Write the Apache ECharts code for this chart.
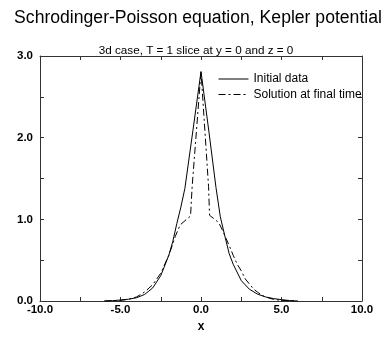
<!DOCTYPE html>
<html><head><meta charset="utf-8">
<script src="https://cdn.jsdelivr.net/npm/echarts@6/dist/echarts.min.js"></script>
<style>html,body{margin:0;padding:0;background:#fff}#c{width:389px;height:338px}</style>
</head><body><div id="c"></div>
<script>
const titleText = "Schrodinger-Poisson equation, Kepler potential";
const subtitleText = "3d case, T = 1 slice at y = 0 and z = 0";
const seriesNames = ["Initial data", "Solution at final time"];
const xAxisName = "x";
const xTicks = [-10, -5, 0, 5, 10];
const yTicks = [0, 1, 2, 3];

const initialX = [-6.0, -5.5, -5.0, -4.5, -4.0, -3.5, -3.0, -2.5, -2.0, -1.75, -1.5, -1.25, -1.0, -0.5, 0.0, 0.5, 0.93, 1.2, 1.5, 1.75, 2.0, 2.5, 3.0, 3.5, 4.0, 4.5, 5.0, 5.5, 6.0];
const initialY = [0.0, 0.004, 0.012, 0.022, 0.04, 0.08, 0.16, 0.31, 0.56, 0.73, 0.95, 1.15, 1.38, 2.09, 2.81, 2.06, 1.39, 1.03, 0.78, 0.58, 0.45, 0.25, 0.145, 0.085, 0.05, 0.03, 0.016, 0.006, 0.0];

const solutionX = [-6.0, -5.0, -4.5, -4.0, -3.5, -3.0, -2.5, -2.0, -1.8, -1.6, -1.3, -0.9, -0.65, -0.55, 0.0, 0.47, 0.53, 0.85, 1.1, 1.35, 1.5, 1.75, 2.0, 2.25, 2.5, 2.75, 3.0, 3.25, 3.5, 3.8, 4.0, 4.5, 5.0, 6.0];
const solutionY = [0.0, 0.008, 0.02, 0.05, 0.11, 0.2, 0.34, 0.56, 0.67, 0.79, 0.93, 1.0, 1.04, 1.40, 2.81, 1.40, 1.05, 1.0, 0.96, 0.86, 0.79, 0.68, 0.56, 0.45, 0.37, 0.27, 0.21, 0.15, 0.11, 0.07, 0.05, 0.02, 0.008, 0.0];

const pair = (xs, ys) => xs.map((x, i) => [x, ys[i]]);
const FONT = "Liberation Sans";
const chart = echarts.init(document.getElementById('c'), null, {renderer: 'canvas'});
const axisCommon = {
  axisLine: {onZero: false, lineStyle: {color: '#333', width: 1}},
  axisTick: {inside: true, length: 4, lineStyle: {color: '#333'}},
  splitLine: {show: false}
};
chart.setOption({
  animation: false,
  backgroundColor: '#fff',
  title: [
    {text: titleText, left: 193, top: 4, textAlign: 'center', textStyle: {fontFamily: FONT, fontSize: 17.6, fontWeight: 'normal', color: '#000'}},
    {text: subtitleText, left: 191, top: 40, textAlign: 'center', textStyle: {fontFamily: FONT, fontSize: 11.7, fontWeight: 'normal', color: '#000'}}
  ],
  legend: {
    orient: 'vertical', left: 213, top: 68, itemWidth: 30, itemHeight: 10, itemGap: 3.5,
    textStyle: {fontFamily: FONT, fontSize: 12, color: '#000'},
    itemStyle: {opacity: 0},
    lineStyle: {width: 1},
    data: seriesNames,
    selectedMode: false
  },
  grid: {left: 40, right: 27, top: 56, bottom: 32},
  xAxis: [
    Object.assign({}, axisCommon, {
      type: 'value', min: -10, max: 10, interval: 2.5, position: 'bottom',
      name: xAxisName, nameLocation: 'middle', nameGap: 20,
      nameTextStyle: {fontFamily: FONT, fontSize: 12, fontWeight: 'bold', color: '#000'},
      axisLabel: {fontFamily: FONT, fontSize: 11.5, fontWeight: 'bold', color: '#000', margin: 3,
        formatter: v => xTicks.includes(v) ? v.toFixed(1) : ''}
    }),
    Object.assign({}, axisCommon, {
      type: 'value', min: -10, max: 10, interval: 2.5, position: 'top',
      axisLabel: {show: false}
    })
  ],
  yAxis: [
    Object.assign({}, axisCommon, {
      type: 'value', min: 0, max: 3, interval: 0.5, position: 'left',
      axisLabel: {fontFamily: FONT, fontSize: 11.5, fontWeight: 'bold', color: '#000', margin: 7,
        formatter: v => yTicks.includes(v) ? v.toFixed(1) : ''}
    }),
    Object.assign({}, axisCommon, {
      type: 'value', min: 0, max: 3, interval: 0.5, position: 'right',
      axisLabel: {show: false}
    })
  ],
  series: [
    {name: seriesNames[0], type: 'line', data: pair(initialX, initialY), showSymbol: false, symbol: 'none',
      lineStyle: {color: '#000', width: 1, type: 'solid'}, itemStyle: {color: '#000'}},
    {name: seriesNames[1], type: 'line', data: pair(solutionX, solutionY), showSymbol: false, symbol: 'none',
      lineStyle: {color: '#000', width: 1, type: [7, 3, 2, 3]}, itemStyle: {color: '#000'}}
  ]
});
</script></body></html>
